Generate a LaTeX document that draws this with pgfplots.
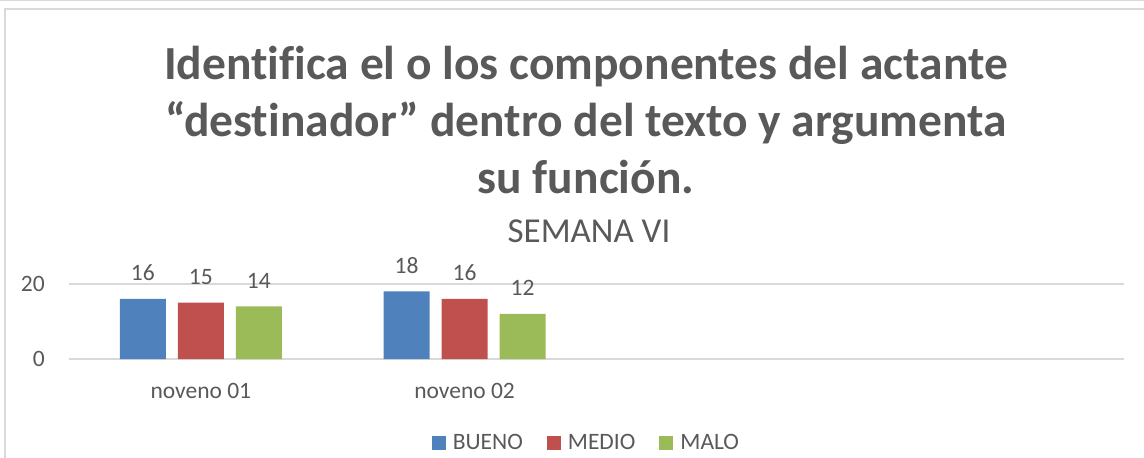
\documentclass[border=0pt]{standalone}
\usepackage{fontspec}
\setmainfont{Carlito}[Ligatures=CommonOff]
\usepackage{pgfplots}
\pgfplotsset{compat=1.18}
\definecolor{cblue}{HTML}{4F81BD}
\definecolor{cred}{HTML}{C0504D}
\definecolor{cgreen}{HTML}{9BBB59}
\definecolor{ctext}{HTML}{595959}
\definecolor{cgrid}{HTML}{D9D9D9}
\newcommand{\smallfont}{\fontsize{23.5bp}{28bp}\selectfont}
\begin{document}
\begin{tikzpicture}
\useasboundingbox (0,0) rectangle (1144bp,458bp);
\draw[cgrid, line width=1.5bp] (0,457.3bp) -- (1144bp,457.3bp);
\draw[cgrid, line width=1.2bp] (5bp,0) -- (5bp,449bp) -- (1144bp,449bp);
\begin{scope}[every node/.style={anchor=base, text=ctext, inner sep=0pt, font=\fontsize{47.5bp}{57bp}\selectfont\bfseries}]
\node at (586bp,378bp) {Identifica el o los componentes del actante};
\node at (586bp,321bp) {“destinador” dentro del texto y argumenta};
\node at (586bp,264bp) {su función.};
\end{scope}
\node[anchor=base, text=ctext, inner sep=0pt, font=\fontsize{35bp}{42bp}\selectfont] at (589bp,215bp) {SEMANA VI};
\begin{axis}[
  at={(69bp,99bp)}, anchor=south west,
  width=1055bp, height=75bp, scale only axis,
  ymin=0, ymax=20, xmin=-0.5, xmax=3.5,
  ytick={0,20}, xtick={0,1}, xticklabels={noveno 01,noveno 02},
  ymajorgrids, grid style={cgrid, line width=1.2bp},
  axis line style={draw=none}, major tick length=0pt,
  tick label style={font=\smallfont, text=ctext},
  /pgf/number format/assume math mode=true,
  yticklabel style={inner sep=0pt, anchor=east, xshift=-24bp},
  xticklabel style={inner sep=0pt, anchor=base, yshift=-39bp},
  ybar=12bp, bar width=46bp,
  nodes near coords,
  every node near coord/.append style={font=\smallfont, text=ctext, anchor=base, inner sep=0pt, yshift=18bp},
  clip=false,
  legend columns=3,
  legend style={at={(0.4905,-1.12)}, anchor=center, draw=none, fill=none,
    font=\smallfont, text=ctext, column sep=5bp,
    /tikz/every even column/.append style={column sep=22bp}},
  legend image code/.code={\fill[#1,draw=none] (0bp,-7bp) rectangle (14bp,7bp);},
]
\addplot[fill=cblue, draw=none] coordinates {(0,16) (1,18)};
\addplot[fill=cred, draw=none] coordinates {(0,15) (1,16)};
\addplot[fill=cgreen, draw=none] coordinates {(0,14) (1,12)};
\legend{BUENO,MEDIO,MALO}
\end{axis}
\end{tikzpicture}
\end{document}
